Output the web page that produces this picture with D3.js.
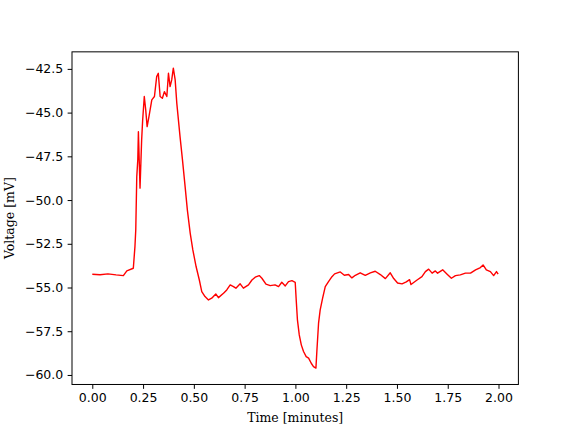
<!DOCTYPE html>
<html>
<head>
<meta charset="utf-8">
<script src="https://cdn.jsdelivr.net/npm/d3@7"></script>
<style>
  body { margin: 0; background: #fff; }
  svg text { fill: #000; }
</style>
</head>
<body>
<div id="vis"></div>
<script>

var width  = 576;
var height = 432;
var margin = { top: 51.84, right: 57.6, bottom: 47.52, left: 72 };

// recording: time in minutes, voltage in mV
var times = [
  0.000, 0.038, 0.077, 0.117, 0.153, 0.170, 0.202, 0.210, 0.214, 0.219,
  0.224, 0.227, 0.235, 0.243, 0.248, 0.256, 0.263, 0.270, 0.279, 0.293,
  0.306, 0.317, 0.325, 0.334, 0.345, 0.355, 0.367, 0.375, 0.383, 0.391,
  0.399, 0.408, 0.416, 0.432, 0.444, 0.457, 0.468, 0.482, 0.495, 0.511,
  0.527, 0.539, 0.555, 0.572, 0.588, 0.608, 0.621, 0.646, 0.662, 0.679,
  0.695, 0.707, 0.728, 0.744, 0.769, 0.786, 0.802, 0.822, 0.835, 0.855,
  0.876, 0.900, 0.917, 0.933, 0.950, 0.966, 0.983, 0.999, 1.004, 1.010,
  1.019, 1.029, 1.040, 1.053, 1.065, 1.078, 1.089, 1.101, 1.106, 1.114,
  1.122, 1.134, 1.147, 1.163, 1.180, 1.193, 1.221, 1.241, 1.262, 1.278,
  1.295, 1.319, 1.344, 1.369, 1.393, 1.418, 1.443, 1.467, 1.484, 1.503,
  1.525, 1.546, 1.562, 1.569, 1.599, 1.623, 1.640, 1.656, 1.673, 1.689,
  1.700, 1.725, 1.747, 1.768, 1.788, 1.812, 1.837, 1.862, 1.887, 1.911,
  1.924, 1.940, 1.960, 1.976, 1.990, 1.998
];
var voltages = [
  -54.24, -54.27, -54.22, -54.28, -54.32, -54.05, -53.90, -52.66, -51.71, -48.66,
  -47.70, -46.09, -49.32, -46.56, -45.42, -44.08, -44.84, -45.80, -45.23, -44.27,
  -44.08, -42.94, -42.75, -44.08, -44.18, -43.80, -44.08, -42.75, -43.51, -43.13,
  -42.46, -43.13, -44.46, -46.37, -47.70, -49.23, -50.56, -51.89, -52.85, -53.80,
  -54.57, -55.23, -55.52, -55.71, -55.61, -55.37, -55.58, -55.33, -55.14, -54.85,
  -54.95, -55.04, -54.79, -55.04, -54.85, -54.57, -54.41, -54.32, -54.47, -54.81,
  -54.89, -54.85, -54.95, -54.70, -54.91, -54.66, -54.61, -54.70, -55.71, -56.85,
  -57.71, -58.28, -58.66, -58.95, -59.04, -59.33, -59.52, -59.61, -58.57, -57.04,
  -56.28, -55.61, -54.95, -54.66, -54.38, -54.22, -54.11, -54.30, -54.26, -54.45,
  -54.30, -54.16, -54.30, -54.16, -54.07, -54.26, -54.49, -54.16, -54.49, -54.74,
  -54.79, -54.68, -54.55, -54.83, -54.57, -54.38, -54.09, -53.95, -54.18, -54.05,
  -54.18, -53.99, -54.24, -54.47, -54.32, -54.28, -54.18, -54.18, -53.99, -53.86,
  -53.71, -53.99, -54.09, -54.32, -54.09, -54.24
];

var xTicks = [0, 0.25, 0.5, 0.75, 1.0, 1.25, 1.5, 1.75, 2.0];
var yTicks = [-60, -57.5, -55, -52.5, -50, -47.5, -45, -42.5];

var data = times.map(function(t, i) { return { t: t, v: voltages[i] }; });

var plotW = width  - margin.left - margin.right;
var plotH = height - margin.top  - margin.bottom;

// matplotlib style 5% margins (true extremes of the noisy trace)
var tExt = d3.extent(times);
var vMin = -59.68, vMax = -42.39;
var tPad = (tExt[1] - tExt[0]) * 0.05;
var vPad = (vMax - vMin) * 0.05;

var x = d3.scaleLinear().domain([tExt[0] - tPad, tExt[1] + tPad]).range([0, plotW]);
var y = d3.scaleLinear().domain([vMin - vPad, vMax + vPad]).range([plotH, 0]);

var svg = d3.select("#vis").append("svg")
  .attr("width", width)
  .attr("height", height);

var g = svg.append("g")
  .attr("transform", "translate(" + margin.left + "," + margin.top + ")");

var line = d3.line()
  .x(function(d) { return x(d.t); })
  .y(function(d) { return y(d.v); });

g.append("path")
  .datum(data)
  .attr("d", line)
  .attr("fill", "none")
  .attr("stroke", "red")
  .attr("stroke-width", 1.4)
  .attr("stroke-linejoin", "round");

var fmt = d3.format(".2f");
var xAxis = g.append("g")
  .attr("transform", "translate(0," + plotH + ")")
  .call(d3.axisBottom(x).tickValues(xTicks).tickFormat(fmt)
    .tickSizeInner(4.375).tickSizeOuter(0).tickPadding(4.375));

var yAxis = g.append("g")
  .call(d3.axisLeft(y).tickValues(yTicks)
    .tickFormat(function(d) { return d3.format(".1f")(d).replace("-", "\u2212"); })
    .tickSizeInner(4.375).tickSizeOuter(0).tickPadding(4.375));

[xAxis, yAxis].forEach(function(a) {
  a.select(".domain").remove();
  a.selectAll("line").attr("stroke", "#000").attr("stroke-width", 1);
  a.selectAll("text")
    .style("font-family", "'DejaVu Sans', sans-serif")
    .style("font-size", "12.5px")
    .attr("fill", "#000");
});

// frame
g.append("rect")
  .attr("width", plotW)
  .attr("height", plotH)
  .attr("fill", "none")
  .attr("stroke", "#000")
  .attr("stroke-width", 1);

svg.append("text")
  .attr("x", margin.left + plotW / 2)
  .attr("y", 422)
  .attr("text-anchor", "middle")
  .style("font-family", "'DejaVu Serif', serif")
  .style("font-size", "12.5px")
  .text("Time [minutes]");

svg.append("text")
  .attr("transform", "translate(14," + (margin.top + plotH / 2) + ")rotate(-90)")
  .attr("text-anchor", "middle")
  .style("font-family", "'DejaVu Serif', serif")
  .style("font-size", "12.5px")
  .text("Voltage [mV]");

</script>
</body>
</html>
